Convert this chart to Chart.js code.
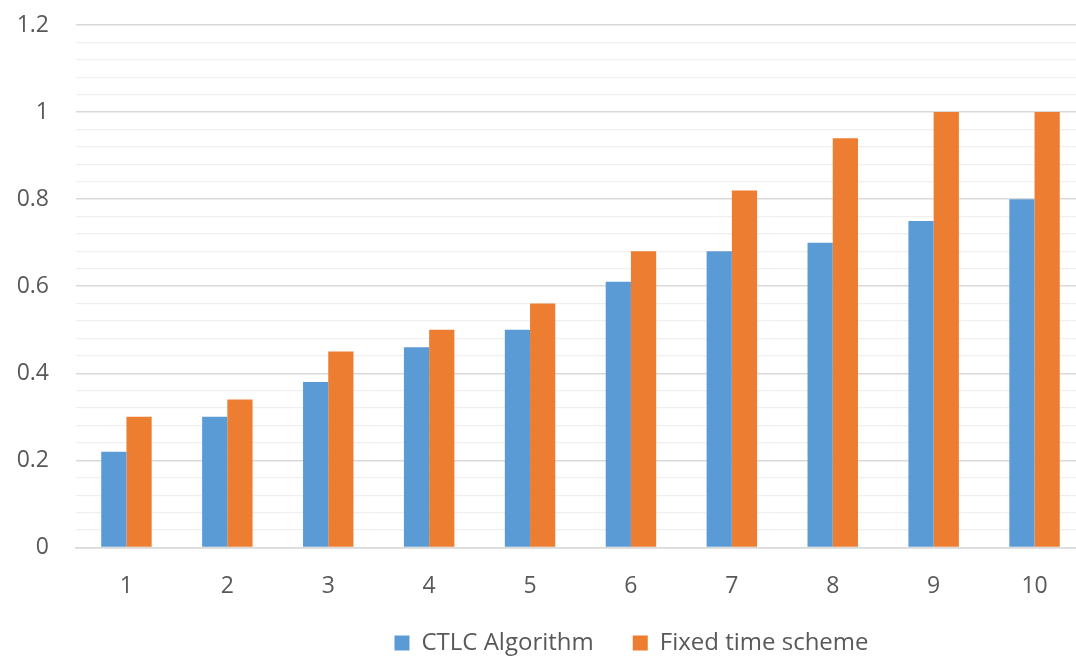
<!DOCTYPE html>
<html>
<head>
<meta charset="utf-8">
<script src="https://cdn.jsdelivr.net/npm/chart.js@4/dist/chart.umd.min.js"></script>
<style>
html,body{margin:0;padding:0;background:#fff;overflow:hidden;width:1076px;height:657px;}
#wrap{position:relative;width:1090px;height:657px;}
</style>
</head>
<body>
<div id="wrap"><canvas id="c" width="1090" height="657"></canvas></div>
<script>
const categories = ['1','2','3','4','5','6','7','8','9','10'];
const ctlcValues = [0.22, 0.30, 0.38, 0.46, 0.50, 0.61, 0.68, 0.70, 0.75, 0.80];
const fixedValues = [0.30, 0.34, 0.45, 0.50, 0.56, 0.68, 0.82, 0.94, 1.00, 1.00];
const seriesNames = ['CTLC Algorithm', 'Fixed time scheme'];
const yMin = 0, yMax = 1.2, yMinorStep = 0.04, yMajorStep = 0.2;

const FONT = "'Open Sans', sans-serif";
const TEXT = '#595959';
const LEGEND_PAD = 39;

const legendTweak = {
  id: 'legendTweak',
  beforeLayout(chart) {
    const lg = chart.legend;
    if (lg && !lg._patched) {
      const orig = lg.fit.bind(lg);
      lg.fit = function () { orig(); this.height = 40; };
      lg._patched = true;
    }
  },
  afterLayout(chart) {
    const lg = chart.legend;
    if (lg) {
      lg.left += 82; lg.right += 82;
      lg.top = 643 - LEGEND_PAD - 12;
      lg.bottom = 700;
      lg.height = lg.bottom - lg.top;
    }
  }
};

function isMajor(v) {
  const r = Math.round(v * 100);
  return r % Math.round(yMajorStep * 100) === 0;
}

new Chart(document.getElementById('c'), {
  type: 'bar',
  data: {
    labels: categories,
    datasets: [
      { label: seriesNames[0], data: ctlcValues, backgroundColor: '#5B9BD5', borderWidth: 0 },
      { label: seriesNames[1], data: fixedValues, backgroundColor: '#ED7D31', borderWidth: 0 }
    ]
  },
  options: {
    responsive: false,
    animation: false,
    devicePixelRatio: 1,
    layout: { padding: { left: 14, right: 5, top: 25, bottom: 0 } },
    datasets: { bar: { categoryPercentage: 0.5, barPercentage: 1.0 } },
    plugins: {
      tooltip: { enabled: false },
      legend: {
        position: 'bottom',
        labels: {
          font: { family: FONT, size: 24 },
          color: TEXT,
          boxWidth: 15,
          boxHeight: 15,
          padding: LEGEND_PAD
        }
      }
    },
    scales: {
      x: {
        grid: { display: false },
        border: { display: true, color: '#d9d9d9', width: 1.5 },
        ticks: { font: { family: FONT, size: 23 }, color: TEXT, padding: 17 }
      },
      y: {
        min: yMin,
        max: yMax,
        border: { display: false },
        afterFit: (scale) => { scale.width = 62; scale.paddingTop = 0; scale.paddingBottom = 0; },
        grid: {
          drawTicks: false,
          color: (ctx) => isMajor(ctx.tick.value) ? '#d9d9d9' : '#efefef',
          lineWidth: (ctx) => isMajor(ctx.tick.value) ? 1.5 : 1.2
        },
        ticks: {
          stepSize: yMinorStep,
          autoSkip: false,
          maxTicksLimit: 100,
          padding: 27,
          font: { family: FONT, size: 23 },
          color: TEXT,
          callback: (v) => isMajor(v) ? String(Math.round(v * 10) / 10) : ''
        }
      }
    }
  },
  plugins: [legendTweak]
});
</script>
</body>
</html>
